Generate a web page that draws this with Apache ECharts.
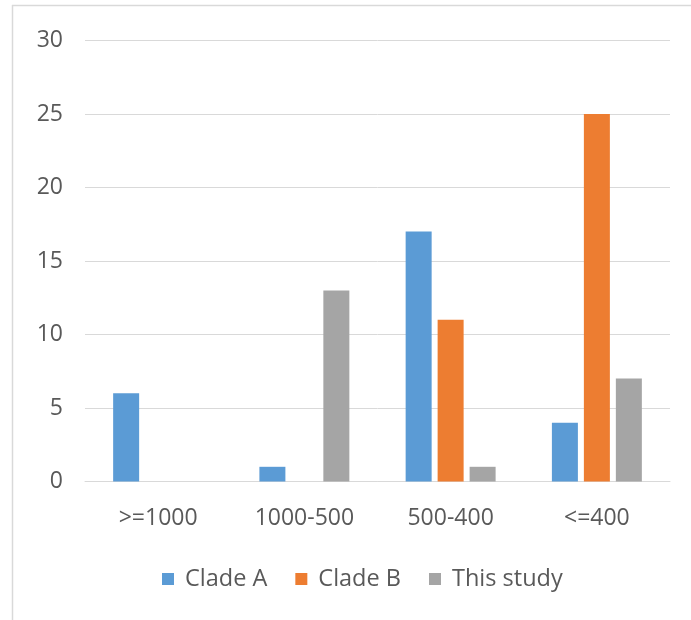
<!DOCTYPE html>
<html><head><meta charset="utf-8">
<script src="https://cdn.jsdelivr.net/npm/echarts@6/dist/echarts.min.js"></script>
<style>html,body{margin:0;padding:0;background:#fff}#c{width:691px;height:620px}</style>
</head><body><div id="c"></div>
<script>
const categories = ['>=1000', '1000-500', '500-400', '<=400'];
const cladeA = [6, 1, 17, 4];
const cladeB = [0, 0, 11, 25];
const thisStudy = [0, 13, 1, 7];
const seriesNames = ['Clade A', 'Clade B', 'This study'];
const colors = ['#5B9BD5', '#ED7D31', '#A5A5A5'];

const chart = echarts.init(document.getElementById('c'), null, {renderer: 'canvas'});
const font = 'Open Sans';
const txt = '#595959';
chart.setOption({
  animation: false,
  color: colors,
  graphic: [
    {type: 'line', shape: {x1: 12, y1: 5.5, x2: 691, y2: 5.5}, style: {stroke: '#d9d9d9', lineWidth: 1.5}},
    {type: 'line', shape: {x1: 12.5, y1: 5, x2: 12.5, y2: 620}, style: {stroke: '#d9d9d9', lineWidth: 1.5}}
  ],
  grid: {left: 85, right: 21, top: 40.5, bottom: 138.5},
  legend: {
    bottom: 24, left: 157, itemWidth: 12, itemHeight: 12, itemGap: 28,
    icon: 'rect',
    textStyle: {color: txt, fontSize: 23.5, fontFamily: font, padding: [0, 0, 0, 6]},
    data: seriesNames
  },
  xAxis: {
    type: 'category', data: categories,
    axisLine: {show: true, lineStyle: {color: '#d9d9d9'}},
    axisTick: {show: false},
    axisLabel: {color: txt, fontSize: 23, fontFamily: font, margin: 25}
  },
  yAxis: {
    type: 'value', min: 0, max: 30, interval: 5,
    axisLine: {show: false}, axisTick: {show: false},
    splitLine: {lineStyle: {color: '#d9d9d9'}},
    axisLabel: {color: txt, fontSize: 23, fontFamily: font, margin: 22}
  },
  series: [
    {name: seriesNames[0], type: 'bar', data: cladeA, barWidth: 26, barGap: '23%'},
    {name: seriesNames[1], type: 'bar', data: cladeB, barWidth: 26, barGap: '23%'},
    {name: seriesNames[2], type: 'bar', data: thisStudy, barWidth: 26, barGap: '23%'}
  ]
});
</script></body></html>
